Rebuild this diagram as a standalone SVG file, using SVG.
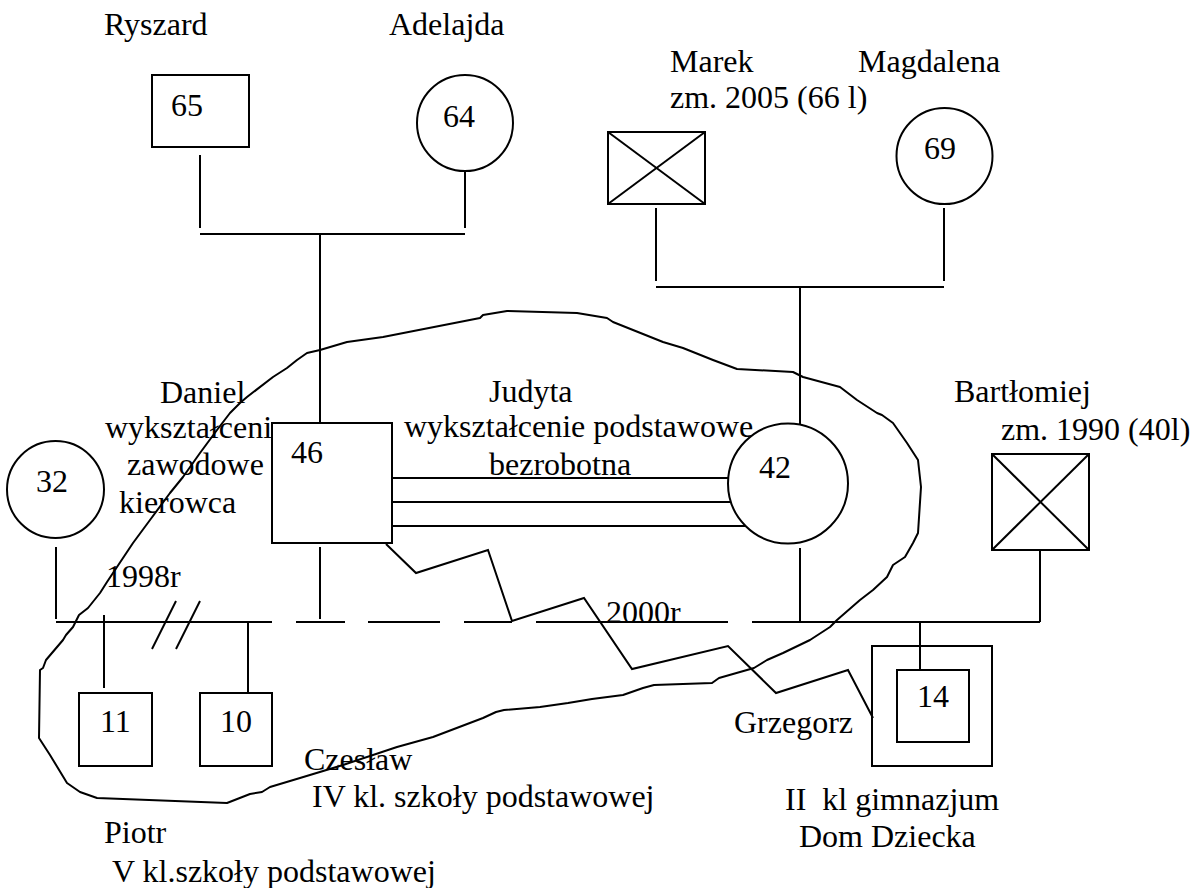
<svg xmlns="http://www.w3.org/2000/svg" width="1192" height="888" viewBox="0 0 1192 888">
<style>
text{font-family:"Liberation Serif","Times New Roman",serif;font-size:32px;fill:#000}
.s{fill:none;stroke:#000;stroke-width:2}
.l{stroke:#000;stroke-width:2;fill:none}
</style>
<rect width="1192" height="888" fill="#fff"/>
<g id="household">
<polyline class="s" stroke-linejoin="round" points="107,582 115,570 133,543 150,520 170,493 183,477 200,453 217,430 230,413 240,403 247,397 273,377 287,368 297,360 307,353 320,350 347,342 383,337 480,318 483,315 507,311 577,313 607,318 613,322 633,330 663,342 683,348 713,360 737,369 793,372 803,377 840,387 857,400 877,413 882,415 893,423 907,443 918,460 921,487 918,533 913,543 905,557 893,565 887,577 873,590 860,600 837,620 830,627 810,640 783,653 767,660 754,668 740,672 719,678 712,683 654,685 643,688 623,695 592,699 568,703 540,707 504,710 496,712 483,718 433,737 397,747 343,765 300,778 270,787 262,792 250,794 227,803 97,798 80,792 67,783 50,755 39,738 40,670 43,668 46,660 63,640 66,635 73,627 79,615 88,608 100,593 107,582"/>
</g>
<g id="connectors">
<line class="l" x1="200" y1="155" x2="200" y2="228"/>
<line class="l" x1="465" y1="172" x2="465" y2="228"/>
<line class="l" x1="200" y1="234" x2="465" y2="234"/>
<line class="l" x1="320" y1="234" x2="320" y2="423"/>
<line class="l" x1="656" y1="208" x2="656" y2="281"/>
<line class="l" x1="944" y1="208" x2="944" y2="281"/>
<line class="l" x1="656" y1="287" x2="944" y2="287"/>
<line class="l" x1="800" y1="287" x2="800" y2="424"/>
<line class="l" x1="392" y1="478" x2="728" y2="478"/>
<line class="l" x1="392" y1="502" x2="731" y2="502"/>
<line class="l" x1="392" y1="526" x2="746" y2="526"/>
<line class="l" x1="56" y1="547" x2="56" y2="619"/>
<line class="l" x1="320" y1="547" x2="320" y2="619"/>
<line class="l" x1="800" y1="548" x2="800" y2="622"/>
<line class="l" x1="1040" y1="550" x2="1040" y2="622"/>
<line class="l" x1="56" y1="622" x2="272" y2="622"/>
<line class="l" x1="296" y1="622" x2="345" y2="622"/>
<line class="l" x1="368" y1="622" x2="440" y2="622"/>
<line class="l" x1="464" y1="622" x2="512" y2="622"/>
<line class="l" x1="536" y1="622" x2="728" y2="622"/>
<line class="l" x1="752" y1="622" x2="1040" y2="622"/>
<line class="l" x1="176" y1="601" x2="152" y2="649"/>
<line class="l" x1="200" y1="601" x2="176" y2="649"/>
<line class="l" x1="104" y1="615" x2="104" y2="688"/>
<line class="l" x1="248" y1="622" x2="248" y2="693"/>
<line class="l" x1="920" y1="622" x2="920" y2="670"/>
<polyline class="l" points="386,544 416,573 488,550 512,621 584,598 632,669 728,646 776,693 848,670 873,718"/>
</g>
<g id="ryszard">
<rect class="s" x="152" y="75" width="97" height="72"/>
<text x="171" y="116">65</text>
<text x="104" y="35">Ryszard</text>
</g>
<g id="adelajda">
<circle class="s" cx="465" cy="123" r="48"/>
<text x="443" y="127">64</text>
<text x="389" y="35">Adelajda</text>
</g>
<g id="marek">
<rect class="s" x="608" y="132" width="97" height="72"/>
<line class="l" x1="608" y1="132" x2="705" y2="204"/>
<line class="l" x1="705" y1="132" x2="608" y2="204"/>
<text x="670" y="72">Marek</text>
<text x="670" y="108">zm. 2005 (66 l)</text>
</g>
<g id="magdalena">
<circle class="s" cx="944.5" cy="156" r="48"/>
<text x="924" y="159">69</text>
<text x="858" y="72">Magdalena</text>
</g>
<g id="daniel">
<rect class="s" x="272" y="423" width="120" height="120"/>
<text x="291" y="463">46</text>
<text x="160" y="403">Daniel</text>
<text x="105" y="438">wykształceni</text>
<text x="127" y="475">zawodowe</text>
<text x="119" y="513">kierowca</text>
</g>
<g id="judyta">
<circle class="s" cx="788" cy="483.5" r="60"/>
<text x="759" y="478">42</text>
<text x="489" y="402">Judyta</text>
<text x="404" y="437">wykształcenie podstawowe</text>
<text x="489" y="475">bezrobotna</text>
</g>
<g id="bartlomiej">
<rect class="s" x="992" y="454" width="97" height="96"/>
<line class="l" x1="992" y1="454" x2="1089" y2="550"/>
<line class="l" x1="1089" y1="454" x2="992" y2="550"/>
<text x="954" y="402">Bartłomiej</text>
<text x="1001" y="440">zm. 1990 (40l)</text>
</g>
<g id="p32">
<circle class="s" cx="55.5" cy="489.5" r="48.5"/>
<text x="36" y="492">32</text>
</g>
<g id="piotr">
<rect class="s" x="79" y="693" width="73" height="73"/>
<text x="100" y="732">11</text>
<text x="104" y="843">Piotr</text>
<text x="112" y="882">V kl.szkoły podstawowej</text>
</g>
<g id="czeslaw">
<rect class="s" x="200" y="693" width="72" height="73"/>
<text x="220" y="732">10</text>
<text x="304" y="770">Czesław</text>
<text x="312" y="807">IV kl. szkoły podstawowej</text>
</g>
<g id="grzegorz">
<rect class="s" x="872" y="646" width="120" height="120"/>
<rect class="s" x="897" y="670" width="72" height="72"/>
<text x="917" y="707">14</text>
<text x="734" y="733">Grzegorz</text>
<text x="785" y="810" xml:space="preserve">II  kl gimnazjum</text>
<text x="799" y="847">Dom Dziecka</text>
</g>
<g id="dates">
<text x="106" y="587">1998r</text>
<text x="606" y="623">2000r</text>
</g>
</svg>
